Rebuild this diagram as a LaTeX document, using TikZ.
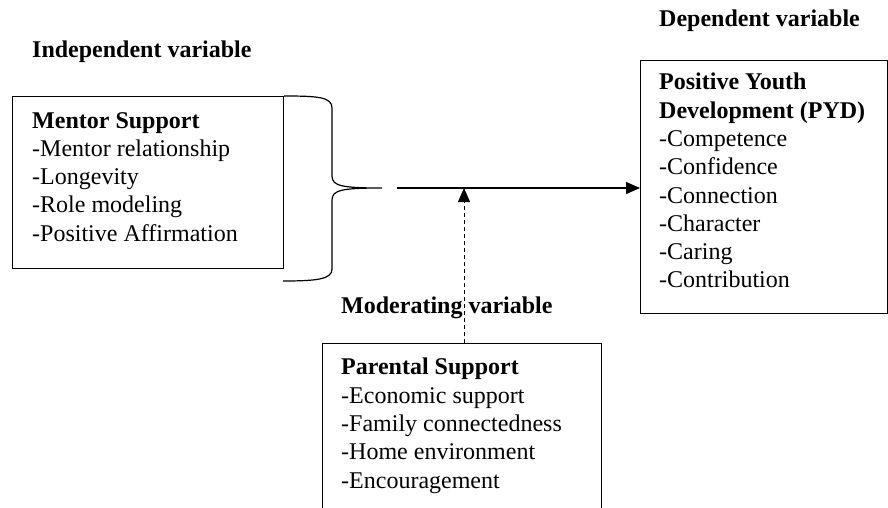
\documentclass[tikz,border=0pt]{standalone}
\usepackage{fontspec}
\setmainfont{Liberation Serif}
\usetikzlibrary{arrows.meta,calc}
\begin{document}
\begin{tikzpicture}[x=1pt,y=-1pt,
  box/.style={draw,line width=1.2pt,inner sep=0pt,anchor=north west},
  txt/.style={anchor=north west,align=left,inner sep=0pt,font=\fontsize{24}{28.3}\selectfont},
  head/.style={anchor=base west,inner sep=0pt,font=\fontsize{24}{28}\selectfont\bfseries},
  link/.style={line width=1.2pt,-{Triangle[length=14pt,width=12pt]}},
  brace/.style={line width=1.2pt}]
\useasboundingbox (0,0) rectangle (888,507);
\clip (0,0) rectangle (888,507);
% boxes
\node[box,minimum width=271pt,minimum height=172pt] (mentor) at (12,96) {};
\node[box,minimum width=247pt,minimum height=253pt] (pyd) at (640,60) {};
\node[box,minimum width=279pt,minimum height=200pt] (parental) at (322,343) {};
% box texts
\node[txt] (mentortxt) at (32,112) {\textbf{Mentor Support}\\-Mentor relationship\\-Longevity\\-Role modeling\\-Positive Affirmation};
\node[txt] (pydtxt) at (659,73) {\textbf{Positive Youth}\\\textbf{Development (PYD)}\\-Competence\\-Confidence\\-Connection\\-Character\\-Caring\\-Contribution};
\node[txt] (parentaltxt) at (341,358) {\textbf{Parental Support}\\-Economic support\\-Family connectedness\\-Home environment\\-Encouragement};
% headings
\node[head] (indep) at (32,57) {Independent variable};
\node[head] (dep) at (659,26) {Dependent variable};
\node[head] (mod) at (341,313) {Moderating variable};
% brace
\coordinate (bracetip) at (382,188);
\draw[brace] (mentor.north east) .. controls (318,96) and (332,97) .. (332,108) -- (332,176)
  .. controls (332,186) and (342,188) .. (bracetip)
  .. controls (342,188) and (332,190) .. (332,200) -- (332,269)
  .. controls (332,279) and (318,281) .. (283,281);
% main arrow
\coordinate (start) at (397,188);
\draw[link] (start) -- (start -| pyd.west);
% moderating arrow
\coordinate (modtip) at (464,188);
\draw[link,dash pattern=on 4pt off 3pt,line width=1pt] (modtip |- parental.north) -- (modtip);
\end{tikzpicture}
\end{document}
